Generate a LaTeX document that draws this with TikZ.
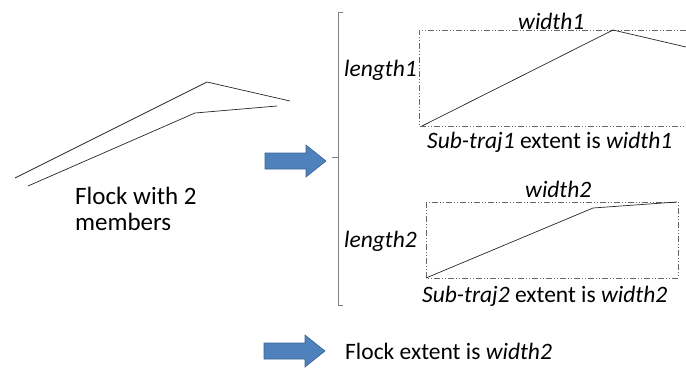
\documentclass[tikz,border=0pt]{standalone}
\usepackage{fontspec}
\setmainfont{Carlito}
\usetikzlibrary{positioning}
\definecolor{arrowblue}{HTML}{4F81BD}
\definecolor{arrowedge}{HTML}{3A6797}
\tikzset{traj/.style = {black!85, line width=0.7pt}}
\tikzset{extent/.style = {gray!80!black, line width=0.6pt, dash pattern=on 6pt off 2pt on 1pt off 2pt on 1pt off 2pt}}
\tikzset{lbl/.style = {inner sep=0, anchor=base west, font=\fontsize{23.5}{26}\selectfont\itshape}}
\tikzset{txt/.style = {inner sep=0, anchor=base west, font=\fontsize{23.5}{26}\selectfont}}
\tikzset{fat/.style = {fill=arrowblue, draw=arrowedge, line width=0.6pt}}
% block arrow: left end x, centre line y
\newcommand{\fatarrow}[2]{\filldraw[fat] (#1,#2-8) -- ++(41,0) -- ++(0,-8) -- ++(20,16) -- ++(-20,16) -- ++(0,-8) -- ++(-41,0) -- cycle;}

\begin{document}
\begin{tikzpicture}[x=1pt, y=-1pt]
        \useasboundingbox (0,0) rectangle (686,372);
        % the two members
        \draw [traj] (15,178) -- (207,82) -- (290,101);
        \draw [traj] (28,186) -- (195,113) -- (277,106);
        \node [txt, font=\fontsize{25}{26}\selectfont, align=left, anchor=north west] (flock) at (75,187) {Flock with 2\\members};
        \fatarrow{265}{161}
        % bracket
        \draw [gray, line width=0.6pt] (343,12) -- (338,12) -- (338,305) -- (343,305);
        \draw [gray, line width=0.6pt] (338,157) -- (332,157);
        % first sub-trajectory
        \draw [extent] (686,30) -- (419,30) -- (419,126) -- (686,126);
        \draw [traj] (422,126) -- (613,30) -- (686,47);
        \node [lbl] (w1) at (518,29) {width1};
        \node [lbl] (l1) at (344,76) {length1};
        \node [txt] (s1) at (427,148) {\textit{Sub-traj1} extent is \textit{width1}};
        % second sub-trajectory
        \draw [extent] (426,202) rectangle (678,278);
        \draw [traj] (426,278) -- (593,208) -- (677,202);
        \node [lbl] (w2) at (525,197) {width2};
        \node [lbl] (l2) at (344,247) {length2};
        \node [txt] (s2) at (422,302) {\textit{Sub-traj2} extent is \textit{width2}};
        % result
        \fatarrow{264}{351}
        \node [txt] (res) at (345,359) {Flock extent is \textit{width2}};
    \end{tikzpicture}
\end{document}
